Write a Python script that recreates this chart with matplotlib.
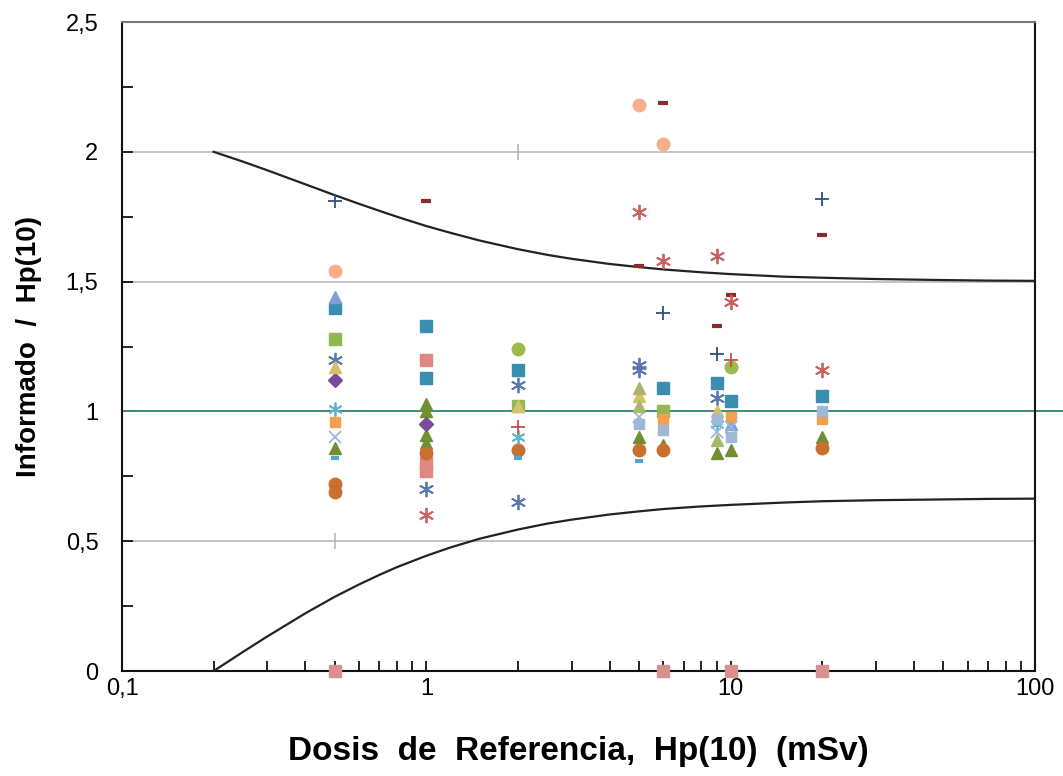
"""Intercomparison results: reported / reference Hp(10) vs reference dose, with trumpet limits."""

import matplotlib

matplotlib.use("Agg")
import matplotlib.pyplot as plt
from matplotlib.ticker import FixedLocator, LogLocator, NullFormatter

plt.rcParams["font.family"] = ["Liberation Sans", "DejaVu Sans"]

# Trumpet limit curves
limit_x = [0.2, 0.25, 0.3, 0.4, 0.5, 0.6, 0.7, 0.8, 1, 1.2, 1.5, 2, 2.5, 3, 4, 5,
           6, 8, 10, 15, 20, 30, 50, 70, 100]
upper_y = [2.000, 1.962, 1.929, 1.875, 1.833, 1.800, 1.773, 1.750, 1.714, 1.688,
           1.658, 1.625, 1.603, 1.588, 1.568, 1.556, 1.547, 1.536, 1.529, 1.519,
           1.515, 1.510, 1.506, 1.504, 1.503]
lower_y = [0.000, 0.074, 0.133, 0.222, 0.286, 0.333, 0.370, 0.400, 0.444, 0.476,
           0.510, 0.545, 0.568, 0.583, 0.603, 0.615, 0.624, 0.634, 0.640, 0.649,
           0.654, 0.658, 0.661, 0.663, 0.664]

# Participant results: ratio reported / Hp(10) at each reference dose
plus_dark_x = [0.5, 6, 9, 20]
plus_dark_y = [1.81, 1.38, 1.22, 1.82]
dash_red_x = [1, 5, 6, 9, 10, 20]
dash_red_y = [1.81, 1.56, 2.19, 1.33, 1.45, 1.68]
circle_peach_x = [0.5, 5, 6]
circle_peach_y = [1.54, 2.18, 2.03]
star_pink_x = [1, 5, 6, 9, 10, 20]
star_pink_y = [0.60, 1.77, 1.58, 1.60, 1.42, 1.16]
star_blue_x = [0.5, 1, 2, 2, 5, 5, 9]
star_blue_y = [1.20, 0.70, 0.65, 1.10, 1.18, 1.16, 1.05]
square_teal_x = [0.5, 1, 1, 2, 6, 9, 10, 20]
square_teal_y = [1.40, 1.33, 1.13, 1.16, 1.09, 1.11, 1.04, 1.06]
triangle_blue_x = [0.5, 10]
triangle_blue_y = [1.44, 0.95]
square_green_x = [0.5, 2, 6]
square_green_y = [1.28, 1.02, 1.00]
square_salmon_x = [1, 1, 1]
square_salmon_y = [1.20, 0.80, 0.77]
zero_x = [0.5, 6, 10, 20]
zero_y = [0, 0, 0, 0]
triangle_green_x = [0.5, 1, 1, 1, 1, 5, 6, 9, 10, 20, 20]
triangle_green_y = [0.86, 1.03, 1.00, 0.91, 0.88, 0.90, 0.87, 0.84, 0.85, 0.90, 0.88]
circle_brown_x = [0.5, 0.5, 1, 2, 5, 6, 20]
circle_brown_y = [0.72, 0.69, 0.84, 0.85, 0.85, 0.85, 0.86]
diamond_purple_x = [0.5, 1]
diamond_purple_y = [1.12, 0.95]
triangle_tan_x = [0.5, 2, 5, 9]
triangle_tan_y = [1.17, 1.02, 1.06, 1.00]
star_aqua_x = [0.5, 2, 9]
star_aqua_y = [1.01, 0.90, 0.95]
circle_green_x = [2, 10]
circle_green_y = [1.24, 1.17]
dash_blue_x = [0.5, 2, 5]
dash_blue_y = [0.82, 0.82, 0.81]
plus_red_x = [2, 10]
plus_red_y = [0.94, 1.20]
square_orange_x = [0.5, 6, 10, 20]
square_orange_y = [0.96, 0.97, 0.98, 0.97]
x_light_x = [0.5, 5, 9, 10]
x_light_y = [0.90, 0.98, 0.92, 0.94]
square_lightblue_x = [5, 6, 9, 10, 20]
square_lightblue_y = [0.95, 0.93, 0.97, 0.90, 1.00]
triangle_olive_x = [5, 5, 9]
triangle_olive_y = [1.09, 1.02, 0.89]
bar_gray_x = [0.5, 2]
bar_gray_y = [0.5, 2.0]

y_ticks = [0, 0.5, 1, 1.5, 2, 2.5]
y_tick_labels = ["0", "0,5", "1", "1,5", "2", "2,5"]
x_ticks = [0.1, 1, 10, 100]
x_tick_labels = ["0,1", "1", "10", "100"]

ASTERISK = (6, 2, 0)

fig = plt.figure(figsize=(10.63, 7.76), dpi=100)
ax = fig.add_axes([0.1148, 0.1353, 0.8589, 0.8363])
ax.set_xscale("log")
ax.set_xlim(0.1, 100)
ax.set_ylim(0, 2.5)

for gy in [0.5, 1.5, 2.0]:
    ax.axhline(gy, color="#c4c4c4", lw=1.4, zorder=1)
ax.plot([0.1, 130], [1, 1], color="#3f8a78", lw=1.4, zorder=2, clip_on=False)

ax.plot(limit_x, upper_y, color="#222222", lw=1.6, zorder=3)
ax.plot(limit_x, lower_y, color="#222222", lw=1.6, zorder=3)

series = [
    (plus_dark_x, plus_dark_y, "+", "#2f4f7f", 10, 1.3),
    (dash_red_x, dash_red_y, "_", "#8b2c2c", 7, 3.0),
    (circle_peach_x, circle_peach_y, "o", "#f5b08a", 9, 1.0),
    (star_pink_x, star_pink_y, ASTERISK, "#c8605e", 11, 1.3),
    (star_blue_x, star_blue_y, ASTERISK, "#5a78b0", 11, 1.3),
    (square_teal_x, square_teal_y, "s", "#3a8fb0", 8, 1.0),
    (triangle_blue_x, triangle_blue_y, "^", "#7f9fd6", 8, 1.0),
    (square_green_x, square_green_y, "s", "#8fb852", 8, 1.0),
    (square_salmon_x, square_salmon_y, "s", "#e08784", 8, 1.0),
    (triangle_green_x, triangle_green_y, "^", "#6f8f30", 8, 1.0),
    (circle_brown_x, circle_brown_y, "o", "#c9702e", 9, 1.0),
    (diamond_purple_x, diamond_purple_y, "D", "#7a4a9a", 7, 1.0),
    (triangle_tan_x, triangle_tan_y, "^", "#d6c06a", 8, 1.0),
    (star_aqua_x, star_aqua_y, ASTERISK, "#5cb8c4", 10, 1.3),
    (circle_green_x, circle_green_y, "o", "#9bbb4a", 9, 1.0),
    (dash_blue_x, dash_blue_y, "_", "#4aa8cf", 6, 3.0),
    (plus_red_x, plus_red_y, "+", "#c0504d", 10, 1.3),
    (square_orange_x, square_orange_y, "s", "#f0a050", 7, 1.0),
    (x_light_x, x_light_y, "x", "#9cb6dc", 8, 1.3),
    (square_lightblue_x, square_lightblue_y, "s", "#9fb8d8", 7, 1.0),
    (triangle_olive_x, triangle_olive_y, "^", "#a6b86a", 8, 1.0),
    (bar_gray_x, bar_gray_y, "|", "#b8b8b8", 12, 1.2),
]
for xs, ys, marker, color, size, mew in series:
    ax.plot(xs, ys, linestyle="none", marker=marker, color=color, markersize=size,
            markeredgewidth=mew, zorder=4)

ax.plot(zero_x, zero_y, linestyle="none", marker="s", color="#d9918f", markersize=9,
        zorder=6, clip_on=False)

for side in ["left", "right", "top", "bottom"]:
    ax.spines[side].set_linewidth(1.5)
    ax.spines[side].set_color("#111111")
ax.spines["top"].set_color("#777777")

ax.yaxis.set_major_locator(FixedLocator(y_ticks))
ax.set_yticklabels(y_tick_labels)
ax.yaxis.set_minor_locator(FixedLocator([0.25, 0.75, 1.25, 1.75, 2.25]))
ax.xaxis.set_major_locator(FixedLocator(x_ticks))
ax.set_xticklabels(x_tick_labels)
ax.xaxis.set_minor_locator(LogLocator(base=10, subs=range(2, 10)))
ax.xaxis.set_minor_formatter(NullFormatter())

ax.tick_params(axis="both", which="both", direction="in", color="#111111", width=1.3)
ax.tick_params(axis="y", which="both", length=8, labelsize=17, pad=17)
ax.tick_params(axis="x", which="both", length=7, labelsize=17, pad=5)
ax.tick_params(right=False, top=False)

ax.set_xlabel("Dosis  de  Referencia,  Hp(10)  (mSv)", fontsize=24, fontweight="bold")
ax.set_ylabel("Informado  /  Hp(10)", fontsize=20, fontweight="bold")
ax.xaxis.set_label_coords(0.5, -0.100)
ax.yaxis.set_label_coords(-0.088, 0.5)

fig.savefig("out.png", dpi=100)
